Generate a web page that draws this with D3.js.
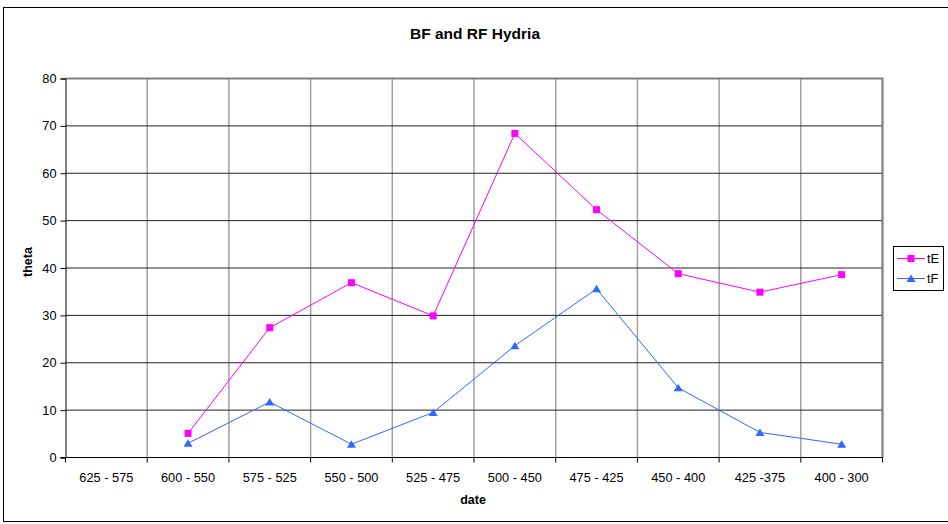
<!DOCTYPE html>
<html>
<head>
<meta charset="utf-8">
<script src="https://cdn.jsdelivr.net/npm/d3@7"></script>
<style>
  html, body { margin: 0; padding: 0; background: #fff; }
  svg { display: block; font-family: "Liberation Sans", Arial, sans-serif; }
</style>
</head>
<body>
<svg id="chart" width="948" height="524"></svg>
<script>
// Date ranges (BC) and the two theta series; the first range has no values
const categories = ["625 - 575", "600 - 550", "575 - 525", "550 - 500", "525 - 475",
                    "500 - 450", "475 - 425", "450 - 400", "425 -375", "400 - 300"];
const tE = [null, 5.1, 27.4, 36.9, 29.9, 68.4, 52.3, 38.8, 34.9, 38.6];
const tF = [null, 3.0, 11.7, 2.8, 9.5, 23.6, 35.6, 14.7, 5.3, 2.8];
const yTicks = [0, 10, 20, 30, 40, 50, 60, 70, 80];

const svg = d3.select("#chart");
const plot = { left: 65.5, right: 882.5, top: 78.5, bottom: 457.5 };
const tickFont = 12.8;

// Outer chart frame
svg.append("rect")
  .attr("x", 3.5).attr("y", 7.5)
  .attr("width", 960).attr("height", 514)
  .attr("fill", "#fff").attr("stroke", "#000").attr("stroke-width", 1);

const x = d3.scaleBand().domain(categories).range([plot.left, plot.right]).padding(0);
const y = d3.scaleLinear().domain([0, 80]).range([plot.bottom, plot.top]);

// Vertical gridlines at category boundaries
const bounds = categories.map(c => x(c)).concat([plot.right]);
svg.append("g").selectAll("line").data(bounds.slice(1)).join("line")
  .attr("x1", d => d).attr("x2", d => d)
  .attr("y1", plot.top).attr("y2", plot.bottom)
  .attr("stroke", "#a0a0a0").attr("stroke-width", 1.5);

// Horizontal gridlines
svg.append("g").selectAll("line").data(yTicks.filter(t => t > 0 && t < 80)).join("line")
  .attr("x1", plot.left).attr("x2", plot.right)
  .attr("y1", d => y(d)).attr("y2", d => y(d))
  .attr("stroke", "#222").attr("stroke-width", 1);

// Plot area border (top and right)
svg.append("path")
  .attr("d", `M${plot.left},${plot.top}H${plot.right}V${plot.bottom}`)
  .attr("fill", "none").attr("stroke", "#808080").attr("stroke-width", 2);

// Y axis
const yAxis = svg.append("g")
  .attr("transform", `translate(${plot.left},0)`)
  .call(d3.axisLeft(y).tickValues(yTicks).tickSize(5).tickPadding(4));
yAxis.select(".domain").attr("stroke", "#000");
yAxis.selectAll(".tick line").attr("stroke", "#000");
yAxis.selectAll("text").attr("font-size", tickFont).attr("fill", "#000")
  .attr("font-family", "Liberation Sans, Arial, sans-serif");

// X axis: line plus ticks at category boundaries
const xg = svg.append("g");
xg.append("line")
  .attr("x1", plot.left - 5).attr("x2", plot.right)
  .attr("y1", plot.bottom).attr("y2", plot.bottom)
  .attr("stroke", "#000");
xg.selectAll("line.tick").data(bounds).join("line").attr("class", "tick")
  .attr("x1", d => d).attr("x2", d => d)
  .attr("y1", plot.bottom).attr("y2", plot.bottom + 5)
  .attr("stroke", "#000");
xg.selectAll("text").data(categories).join("text")
  .attr("x", d => x(d) + x.bandwidth() / 2)
  .attr("y", plot.bottom + 24)
  .attr("text-anchor", "middle")
  .attr("font-size", tickFont).attr("fill", "#000")
  .text(d => d);

// Series lines and markers
const line = d3.line()
  .defined(d => d.v != null)
  .x(d => x(d.c) + x.bandwidth() / 2)
  .y(d => y(d.v));

const seriesE = categories.map((c, i) => ({ c, v: tE[i] }));
const seriesF = categories.map((c, i) => ({ c, v: tF[i] }));
const pink = "#ff00ff", blue = "#3366ff";

svg.append("path").datum(seriesF).attr("d", line)
  .attr("fill", "none").attr("stroke", blue).attr("stroke-width", 1);
svg.append("path").datum(seriesE).attr("d", line)
  .attr("fill", "none").attr("stroke", pink).attr("stroke-width", 1);

const tri = "M0,-4L4.5,3.5L-4.5,3.5Z";
svg.append("g").selectAll("path").data(seriesF.filter(d => d.v != null)).join("path")
  .attr("d", tri)
  .attr("transform", d => `translate(${x(d.c) + x.bandwidth() / 2},${y(d.v)})`)
  .attr("fill", blue);
svg.append("g").selectAll("rect").data(seriesE.filter(d => d.v != null)).join("rect")
  .attr("x", d => x(d.c) + x.bandwidth() / 2 - 3.5)
  .attr("y", d => y(d.v) - 3.5)
  .attr("width", 7).attr("height", 7)
  .attr("fill", pink);

// Title and axis titles
svg.append("text").attr("x", 475).attr("y", 39)
  .attr("text-anchor", "middle").attr("font-size", 15.5).attr("font-weight", "bold")
  .text("BF and RF Hydria");
svg.append("text").attr("x", 473).attr("y", 504)
  .attr("text-anchor", "middle").attr("font-size", 12.5).attr("font-weight", "bold")
  .text("date");
svg.append("text")
  .attr("transform", "translate(32,262) rotate(-90)")
  .attr("text-anchor", "middle").attr("font-size", 12.5).attr("font-weight", "bold")
  .text("theta");

// Legend
const lg = svg.append("g");
lg.append("rect").attr("x", 893.5).attr("y", 246.5).attr("width", 50).attr("height", 44)
  .attr("fill", "#fff").attr("stroke", "#000").attr("stroke-width", 1);
const items = [{ name: "tE", color: pink, shape: "sq" }, { name: "tF", color: blue, shape: "tri" }];
items.forEach((it, i) => {
  const cy = 258.5 + i * 20;
  lg.append("line").attr("x1", 897).attr("x2", 925).attr("y1", cy).attr("y2", cy)
    .attr("stroke", it.color).attr("stroke-width", 1);
  if (it.shape === "sq") {
    lg.append("rect").attr("x", 907.5).attr("y", cy - 3.5).attr("width", 7).attr("height", 7)
      .attr("fill", it.color);
  } else {
    lg.append("path").attr("d", tri).attr("transform", `translate(911,${cy})`).attr("fill", it.color);
  }
  lg.append("text").attr("x", 927).attr("y", cy + 4.5)
    .attr("font-size", tickFont).attr("fill", "#000").text(it.name);
});
</script>
</body>
</html>
